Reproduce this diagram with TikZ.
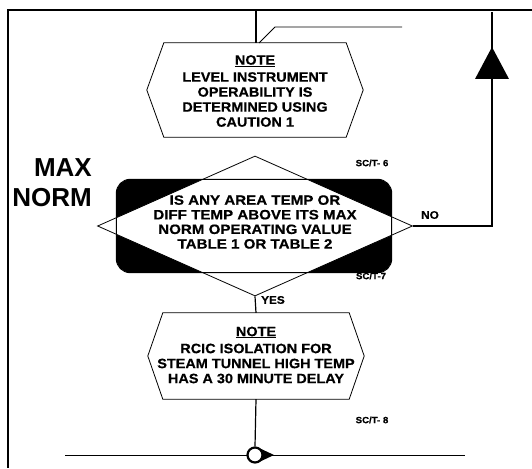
\documentclass[tikz,border=0pt]{standalone}
\usepackage{fontspec}
\setmainfont{Liberation Sans}
\newfontfamily\notefont{Liberation Sans}[FakeStretch=1.07,FakeBold=0.6]
\newfontfamily\qfont{Liberation Sans}[FakeStretch=1.12,FakeBold=0.6]
\usetikzlibrary{shapes.geometric,calc}
\newcommand\hexpath[2]{%
  \draw[hexline] ($(#1.north west)+(#2,0)$) -- ($(#1.north east)+(-#2,0)$) -- (#1.east)
    -- ($(#1.south east)+(-#2,0)$) -- ($(#1.south west)+(#2,0)$) -- (#1.west) -- cycle;}
\begin{document}
\begin{tikzpicture}[x=1pt,y=-1pt,
  txt/.style={font=\notefont\bfseries\fontsize{13.5}{15}\selectfont, align=center, inner sep=0pt},
  dtxt/.style={font=\qfont\bfseries\fontsize{13.5}{14.6}\selectfont, align=center, inner sep=0pt},
  big/.style={font=\bfseries\fontsize{26}{30}\selectfont, inner sep=0pt},
  lbl/.style={font=\notefont\bfseries\fontsize{9}{10}\selectfont, inner sep=0pt},
  yn/.style={font=\notefont\bfseries\fontsize{11}{12}\selectfont, inner sep=0pt},
  conn/.style={line width=1.2pt},
  hexline/.style={line width=0.8pt},
  hexbox/.style={minimum width=216pt, minimum height=94pt, inner sep=0pt}]
\useasboundingbox (0,0) rectangle (532,468);
\fill[white] (0,0) rectangle (532,468);
% frame
\coordinate (tl) at (8,10);
\coordinate (tr) at (532,10);
\coordinate (bl) at (8,468);
\draw[conn] (tr) -- (tl) -- (bl);
% note 1
\node[hexbox] (n1) at (255,90) {};
\hexpath{n1}{17}
\node[txt] (n1t) at (255,91) {\underline{NOTE}\\[2pt]LEVEL INSTRUMENT\\OPERABILITY IS\\DETERMINED USING\\CAUTION 1};
\coordinate (top) at (256,10);
\draw[conn] (top) -- (top|-n1.north);
\coordinate (l1) at (259,43);
\coordinate (l2) at (275,27);
\coordinate (l3) at (402,27);
\draw[line width=0.9pt] (l1) -- (l2) -- (l3);
% MAX NORM
\node[big, anchor=east] (max) at (92,168) {MAX};
\node[big, anchor=east] (norm) at (92,198) {NORM};
% decision
\node[fill=black, rounded corners=14pt, minimum width=275pt, minimum height=93pt, inner sep=0pt] (r) at (254,226) {};
\node[diamond, draw, hexline, fill=white, minimum width=315pt, minimum height=140pt, inner sep=0pt] (d) at (255,226) {};
\draw[line width=1pt, rounded corners=14pt] (r.north west) rectangle (r.south east);
\node[dtxt] (dt) at (255,222) {IS ANY AREA TEMP OR\\DIFF TEMP ABOVE ITS MAX\\NORM OPERATING VALUE\\TABLE 1 OR TABLE 2};
\node[lbl] (s6) at (372,163) {SC/T- 6};
\node[lbl] (s7) at (371,276) {SC/T-7};
% NO branch
\coordinate (c1) at (492,226);
\coordinate (c2) at (492,12);
\draw[conn] (d.east) -- (c1) -- (c2);
\fill (492,47) -- (475,79) -- (509,79) -- cycle;
\node[yn] (no) at (430,215) {NO};
% note 2
\node[hexbox, minimum height=86pt] (n2) at (256,356) {};
\hexpath{n2}{15}
\node[txt] (n2t) at (256,355) {\underline{NOTE}\\[2pt]RCIC ISOLATION FOR\\STEAM TUNNEL HIGH TEMP\\HAS A 30 MINUTE DELAY};
\draw[conn] (d.south) -- (n2.north);
\node[yn, anchor=west] (yes) at (261,300) {YES};
\node[lbl] (s8) at (372,420) {SC/T- 8};
% bottom connector
\coordinate (b1) at (65,455);
\coordinate (b2) at (465,455);
\draw[line width=1pt] (b1) -- (b2);
\fill (257,447) -- (274,455) -- (257,463) -- cycle;
\node[circle, draw, line width=2.2pt, fill=white, minimum size=15pt, inner sep=0pt] (c) at (255,455) {};
\draw[conn] (n2.south) -- (c.north);
\end{tikzpicture}
\end{document}
